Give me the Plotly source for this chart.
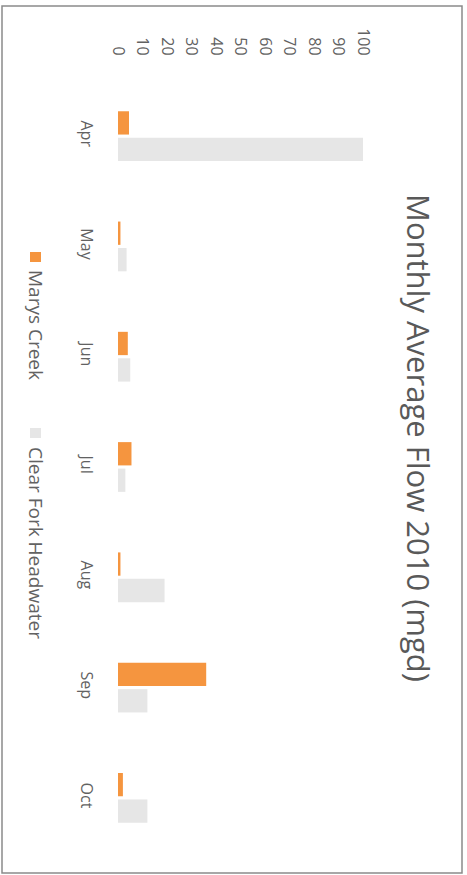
import plotly.graph_objects as go

# Monthly average flow, 2010 (million gallons per day)
months = ["Apr", "May", "Jun", "Jul", "Aug", "Sep", "Oct"]
marys_creek = [4.5, 1, 4, 5.5, 1, 36, 2]
clear_fork_headwater = [100, 3.5, 5, 3, 19, 12, 12]
value_ticks = [0, 10, 20, 30, 40, 50, 60, 70, 80, 90, 100]

series_names = ["Marys Creek", "Clear Fork Headwater"]
series_colors = ["#F5953F", "#E6E6E6"]

W, H = 467, 875
L, R, T, B = 118, 104, 81, 22
PW, PH = W - L - R, H - T - B


def xp(px):
    return (px - L) / PW


def yp(py):
    return (H - B - py) / PH


fig = go.Figure()
for name, vals, col in zip(series_names, [marys_creek, clear_fork_headwater], series_colors):
    fig.add_trace(go.Bar(
        y=months, x=vals, name=name, orientation="h",
        marker=dict(color=col, line=dict(width=0)),
        showlegend=False,
    ))

text_col = "#626262"
font_family = "Open Sans, Liberation Sans, sans-serif"

fig.update_layout(
    width=W, height=H,
    margin=dict(l=L, r=R, t=T, b=B),
    paper_bgcolor="white", plot_bgcolor="white",
    barmode="group", bargap=0.52, bargroupgap=0.12,
    font=dict(family=font_family, color=text_col),
    xaxis=dict(
        range=[0, 100], side="top", tickvals=value_ticks,
        tickangle=90, tickfont=dict(size=16, color=text_col),
        showgrid=False, zeroline=False, showline=False,
        ticks="", ticklabelstandoff=22,
    ),
    yaxis=dict(
        categoryorder="array", categoryarray=months, autorange="reversed",
        tickangle=90, tickfont=dict(size=16, color=text_col),
        showgrid=False, zeroline=False, showline=False,
        ticks="", ticklabelstandoff=20,
    ),
)

# Chart title, set vertically along the right side
fig.add_annotation(
    text="Monthly Average Flow 2010 (mgd)", textangle=90,
    xref="paper", yref="paper", x=xp(419), y=yp(438),
    xanchor="center", yanchor="middle", showarrow=False,
    font=dict(size=31, color="#595959", family=font_family),
)

# Legend, set vertically along the left side
legend_rows = [(252, 268), (428, 445)]
for (sq_top, txt_top), name, col in zip(legend_rows, series_names, series_colors):
    fig.add_shape(
        type="rect", xref="paper", yref="paper",
        x0=xp(30), x1=xp(41), y0=yp(sq_top), y1=yp(sq_top + 10),
        fillcolor=col, line=dict(width=0),
    )
    fig.add_annotation(
        text=name, textangle=90, xref="paper", yref="paper",
        x=xp(36), y=yp(txt_top), xanchor="center", yanchor="top",
        showarrow=False, font=dict(size=19, color=text_col, family=font_family),
    )

# Chart area border
fig.add_shape(
    type="rect", xref="paper", yref="paper",
    x0=xp(2), x1=xp(462), y0=yp(873), y1=yp(6),
    line=dict(color="#8a8a8a", width=1.5), fillcolor="rgba(0,0,0,0)",
    layer="below",
)

fig.write_html("out.html")
